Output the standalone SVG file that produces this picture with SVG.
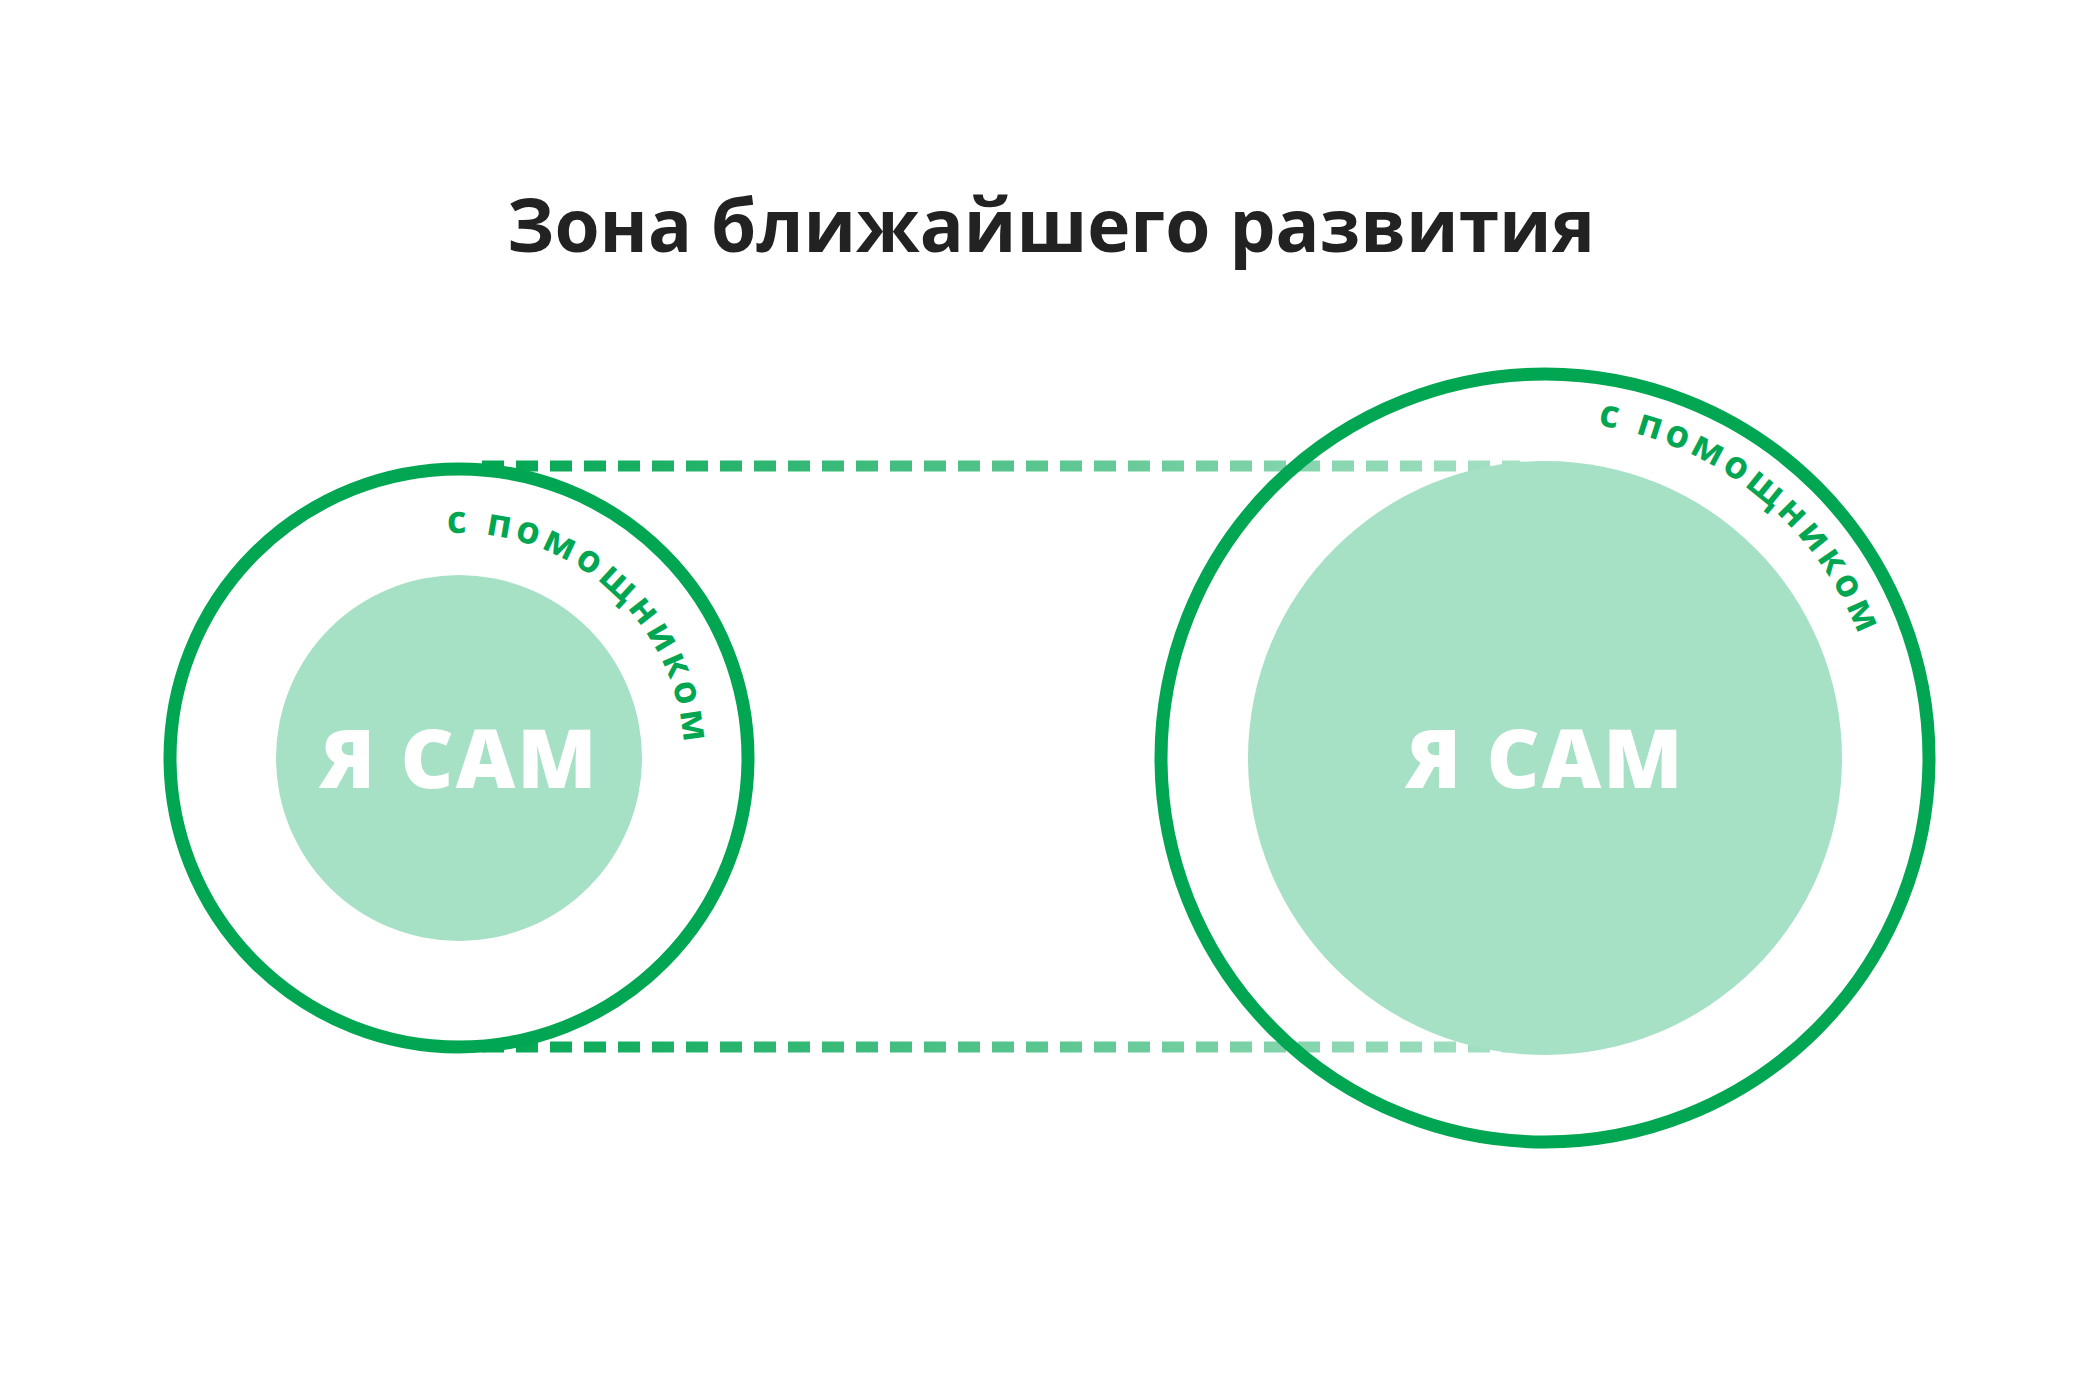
<svg xmlns="http://www.w3.org/2000/svg" width="2100" height="1400" viewBox="0 0 2100 1400">
<style>
.ring{fill:none;stroke:#00a651;stroke-width:13}
.core{fill:#a7e1c5}
.big{font-family:"Open Sans","DejaVu Sans",sans-serif;font-weight:800;font-size:82px;fill:#fff;text-anchor:middle;letter-spacing:2px}
.arc{font-family:"Open Sans","DejaVu Sans",sans-serif;font-weight:700;font-size:38px;fill:#00a651}
.dash{fill:none;stroke:url(#g);stroke-width:11;stroke-dasharray:22 12}
</style>
<defs>
<linearGradient id="g" gradientUnits="userSpaceOnUse" x1="482" y1="0" x2="1520" y2="0">
<stop offset="0" stop-color="#00a651"/><stop offset="1" stop-color="#a7e1c5"/>
</linearGradient>
<path id="a1" d="M447.2,533.3 A225,225 0 0 1 683.7,769.8"/>
<path id="a2" d="M1597.7,425.1 A337,337 0 0 1 1870.5,670.8"/>
</defs>
<rect width="2100" height="1400" fill="#fff"/>
<text x="1051" y="252" font-family="'Open Sans','DejaVu Sans',sans-serif" font-weight="700" font-size="73" fill="#222" text-anchor="middle">Зона ближайшего развития</text>
<g id="connectors">
<line class="dash" x1="482" y1="466" x2="1520" y2="466"/>
<line class="dash" x1="482" y1="1047" x2="1520" y2="1047"/>
</g>
<g id="left">
<circle class="core" cx="459" cy="758" r="183"/>
<circle class="ring" cx="459" cy="758" r="289"/>
<text class="big" x="459" y="788">Я САМ</text>
<text class="arc"><textPath href="#a1" textLength="350" lengthAdjust="spacing">с помощником</textPath></text>
</g>
<g id="right">
<circle class="core" cx="1545" cy="758" r="297"/>
<circle class="ring" cx="1545" cy="758" r="384"/>
<text class="big" x="1545" y="788">Я САМ</text>
<text class="arc"><textPath href="#a2" textLength="350" lengthAdjust="spacing">с помощником</textPath></text>
</g>
</svg>
